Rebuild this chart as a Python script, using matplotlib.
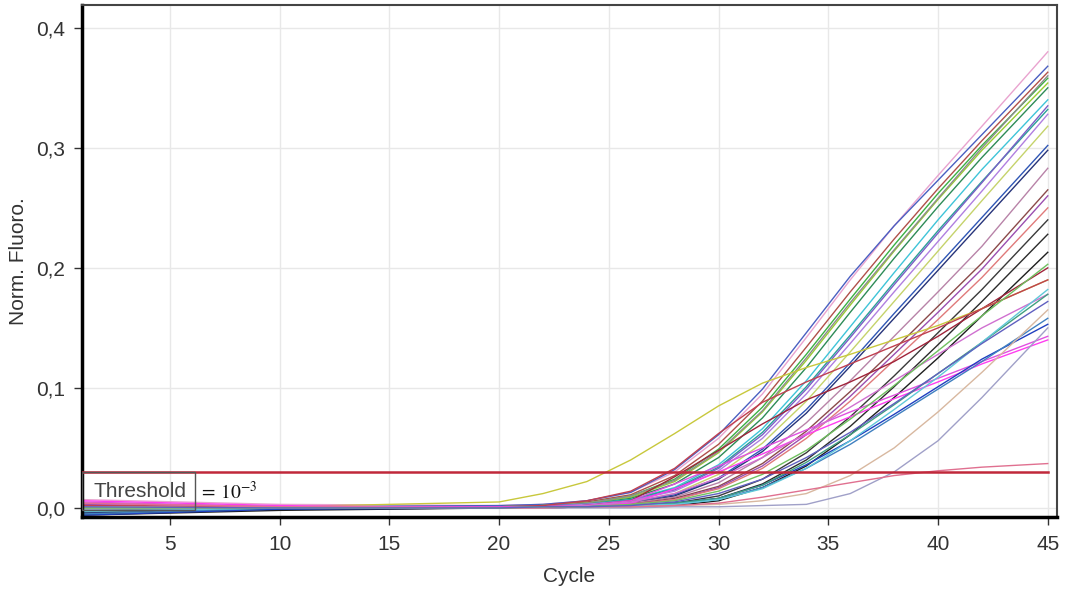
import matplotlib
matplotlib.use("Agg")
import matplotlib.pyplot as plt
from matplotlib.patches import Rectangle
from matplotlib.ticker import FuncFormatter

plt.rcParams['font.family'] = ['Liberation Sans', 'DejaVu Sans']

CYCLES = [1, 10, 20, 22, 24, 26, 28, 30, 32, 34, 36, 38, 40, 42, 45]

CURVES = [
    [0.007, 0.003, 0.002, 0.003, 0.006, 0.013, 0.030, 0.058, 0.095, 0.142, 0.190, 0.235, 0.277, 0.318, 0.380],
    [-0.004, 0.001, 0.002, 0.003, 0.006, 0.013, 0.032, 0.061, 0.099, 0.146, 0.193, 0.235, 0.273, 0.311, 0.368],
    [0.002, 0.001, 0.001, 0.002, 0.005, 0.011, 0.027, 0.053, 0.089, 0.134, 0.180, 0.224, 0.266, 0.306, 0.363],
    [0.001, 0.001, 0.001, 0.002, 0.004, 0.010, 0.024, 0.049, 0.084, 0.128, 0.174, 0.219, 0.262, 0.302, 0.358],
    [0.000, 0.000, 0.001, 0.002, 0.004, 0.009, 0.022, 0.046, 0.080, 0.123, 0.169, 0.214, 0.257, 0.298, 0.354],
    [0.001, 0.001, 0.001, 0.002, 0.004, 0.010, 0.023, 0.047, 0.081, 0.125, 0.171, 0.215, 0.258, 0.300, 0.360],
    [-0.002, 0.000, 0.001, 0.002, 0.003, 0.008, 0.020, 0.042, 0.075, 0.117, 0.163, 0.208, 0.251, 0.292, 0.350],
    [0.000, 0.000, 0.001, 0.002, 0.003, 0.007, 0.017, 0.036, 0.066, 0.106, 0.151, 0.196, 0.240, 0.282, 0.340],
    [0.001, 0.000, 0.001, 0.001, 0.003, 0.007, 0.016, 0.034, 0.063, 0.101, 0.144, 0.188, 0.231, 0.272, 0.332],
    [0.002, 0.001, 0.001, 0.002, 0.003, 0.006, 0.015, 0.033, 0.061, 0.099, 0.142, 0.186, 0.229, 0.271, 0.335],
    [0.003, 0.001, 0.001, 0.001, 0.003, 0.006, 0.014, 0.031, 0.058, 0.095, 0.137, 0.180, 0.222, 0.264, 0.328],
    [0.000, 0.000, 0.001, 0.001, 0.002, 0.005, 0.012, 0.028, 0.054, 0.089, 0.130, 0.172, 0.214, 0.256, 0.318],
    [-0.005, 0.000, 0.001, 0.001, 0.002, 0.005, 0.011, 0.025, 0.049, 0.082, 0.121, 0.162, 0.202, 0.242, 0.302],
    [-0.004, 0.000, 0.001, 0.001, 0.002, 0.004, 0.010, 0.024, 0.047, 0.079, 0.118, 0.158, 0.198, 0.238, 0.298],
    [0.004, 0.001, 0.001, 0.001, 0.002, 0.004, 0.009, 0.021, 0.042, 0.071, 0.106, 0.143, 0.180, 0.218, 0.283],
    [0.002, 0.001, 0.000, 0.001, 0.002, 0.003, 0.008, 0.018, 0.037, 0.064, 0.097, 0.132, 0.168, 0.204, 0.265],
    [0.003, 0.001, 0.000, 0.001, 0.001, 0.003, 0.007, 0.017, 0.035, 0.061, 0.093, 0.128, 0.163, 0.199, 0.260],
    [0.002, 0.001, 0.000, 0.001, 0.002, 0.003, 0.007, 0.016, 0.033, 0.058, 0.089, 0.123, 0.157, 0.192, 0.250],
    [-0.006, -0.002, 0.000, 0.000, 0.001, 0.001, 0.002, 0.006, 0.017, 0.035, 0.061, 0.092, 0.125, 0.160, 0.213],
    [-0.005, -0.001, 0.000, 0.000, 0.001, 0.002, 0.003, 0.008, 0.020, 0.040, 0.068, 0.101, 0.136, 0.172, 0.228],
    [-0.003, 0.000, 0.000, 0.001, 0.001, 0.002, 0.004, 0.010, 0.024, 0.046, 0.076, 0.110, 0.146, 0.182, 0.240],
    [0.001, 0.000, 0.001, 0.001, 0.002, 0.006, 0.026, 0.048, 0.070, 0.090, 0.105, 0.122, 0.143, 0.166, 0.200],
    [0.001, 0.001, 0.005, 0.012, 0.022, 0.040, 0.062, 0.085, 0.104, 0.117, 0.128, 0.140, 0.152, 0.166, 0.190],
    [0.002, 0.001, 0.001, 0.002, 0.006, 0.014, 0.033, 0.062, 0.088, 0.105, 0.120, 0.135, 0.150, 0.166, 0.190],
    [0.006, 0.002, 0.000, 0.001, 0.002, 0.004, 0.016, 0.030, 0.045, 0.061, 0.076, 0.091, 0.105, 0.120, 0.140],
    [0.005, 0.001, 0.001, 0.001, 0.002, 0.006, 0.020, 0.035, 0.050, 0.065, 0.080, 0.094, 0.108, 0.122, 0.143],
    [0.004, 0.001, 0.000, 0.001, 0.002, 0.005, 0.012, 0.025, 0.042, 0.062, 0.084, 0.106, 0.128, 0.150, 0.178],
    [-0.006, -0.001, 0.000, 0.000, 0.001, 0.002, 0.004, 0.008, 0.019, 0.036, 0.056, 0.078, 0.101, 0.124, 0.153],
    [-0.005, 0.000, 0.000, 0.000, 0.001, 0.002, 0.003, 0.007, 0.017, 0.033, 0.053, 0.076, 0.099, 0.122, 0.158],
    [-0.002, 0.000, 0.000, 0.001, 0.001, 0.002, 0.004, 0.008, 0.019, 0.038, 0.061, 0.086, 0.112, 0.138, 0.178],
    [-0.003, 0.000, 0.000, 0.000, 0.001, 0.002, 0.003, 0.007, 0.016, 0.033, 0.056, 0.082, 0.109, 0.138, 0.182],
    [0.001, 0.000, 0.000, 0.000, 0.001, 0.001, 0.002, 0.003, 0.006, 0.012, 0.027, 0.050, 0.080, 0.113, 0.165],
    [-0.001, 0.000, 0.000, 0.000, 0.000, 0.000, 0.001, 0.001, 0.002, 0.003, 0.012, 0.030, 0.056, 0.092, 0.150],
    [0.004, 0.001, 0.000, 0.000, 0.001, 0.001, 0.002, 0.004, 0.009, 0.015, 0.021, 0.027, 0.031, 0.034, 0.037],
    [0.000, 0.000, 0.000, 0.001, 0.001, 0.003, 0.006, 0.014, 0.028, 0.048, 0.074, 0.102, 0.131, 0.160, 0.203],
    [0.001, 0.000, 0.000, 0.001, 0.001, 0.002, 0.005, 0.012, 0.024, 0.042, 0.063, 0.087, 0.112, 0.137, 0.172],
]

COLORS = [
    '#e9a3cf', '#4a5fc1', '#b0504a', '#3cb043', '#9acd32', '#8c8c8c',
    '#2e8b57', '#3fc4d8', '#2aa198', '#7b5fc7', '#b07fe0', '#c5d36b',
    '#2f56b5', '#27347a', '#b883a8', '#8b4a4a', '#9b4fb0', '#e07a7a',
    '#1e1e1e', '#2b2b2b', '#3a3a3a', '#a0243a', '#c8c83c', '#c04050',
    '#ff3df0', '#e050e0', '#d070d0', '#2040c0', '#4080c0', '#40a080',
    '#60c8d8', '#d8b8a0', '#a0a0c8', '#e07090', '#70c060', '#6060c0',
]

THRESHOLD = 0.03
X_TICKS = [5, 10, 15, 20, 25, 30, 35, 40, 45]
Y_TICKS = [0.0, 0.1, 0.2, 0.3, 0.4]

fig = plt.figure(figsize=(10.68, 5.93), dpi=100)
ax = fig.add_axes([0.0768, 0.1282, 0.9129, 0.8634])

for vals, col in zip(CURVES, COLORS):
    ax.plot(CYCLES, vals, color=col, lw=1.0, zorder=2)

ax.plot([CYCLES[0], CYCLES[-1]], [THRESHOLD, THRESHOLD], color='#c0283a', lw=1.8, zorder=4)

# threshold label box
ax.add_patch(Rectangle((1, -0.002), 5.15, THRESHOLD + 0.002, fill=False,
                       edgecolor='#555555', lw=1.0, zorder=5))
ax.text(3.65, 0.0135, 'Threshold', ha='center', va='center', fontsize=15,
        color='#444444', zorder=6)
ax.text(6.35, 0.0135, r'$=\,10^{-3}$', ha='left', va='center', fontsize=14,
        color='#111111', math_fontfamily='stix', zorder=6)

ax.set_xlim(1, 45.42)
ax.set_ylim(-0.0075, 0.419)
ax.set_xticks(X_TICKS)
ax.set_yticks(Y_TICKS)
ax.yaxis.set_major_formatter(FuncFormatter(lambda v, p: f'{v:.1f}'.replace('.', ',')))
ax.grid(True, color='#e8e8e8', lw=1.0, zorder=0)
ax.set_axisbelow(True)
ax.tick_params(labelsize=15, colors='#333333', length=6, width=1)
ax.tick_params(axis='x', pad=7)
ax.tick_params(axis='y', pad=6)

for side in ['left', 'bottom']:
    ax.spines[side].set_linewidth(2.5)
    ax.spines[side].set_color('black')
for side in ['top', 'right']:
    ax.spines[side].set_linewidth(1.5)
    ax.spines[side].set_color('#444444')

ax.set_xlabel('Cycle', fontsize=15, color='#333333', labelpad=9)
ax.set_ylabel('Norm. Fluoro.', fontsize=15, color='#333333', labelpad=6)

fig.savefig('out.png', dpi=100)
